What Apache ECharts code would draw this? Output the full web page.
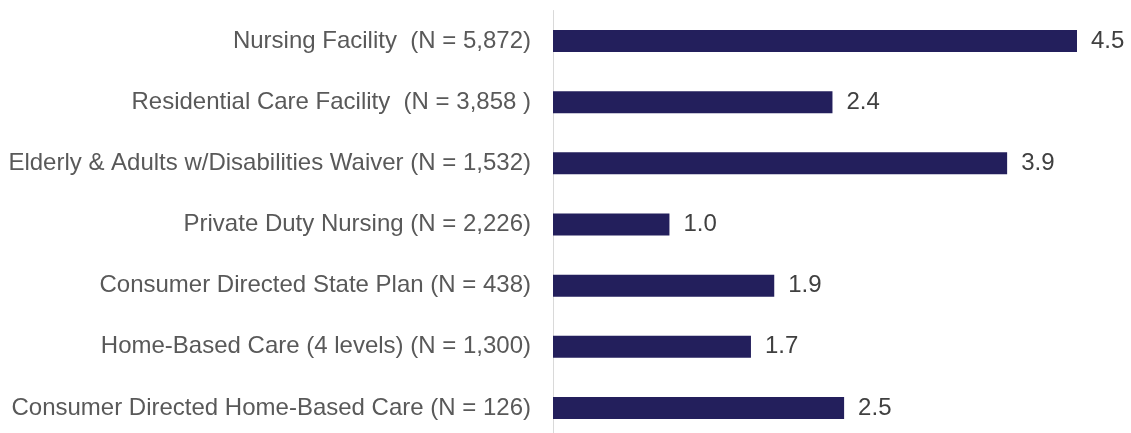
<!DOCTYPE html>
<html>
<head>
<meta charset="utf-8">
<script src="https://cdn.jsdelivr.net/npm/echarts@6/dist/echarts.min.js"></script>
<style>
html,body{margin:0;padding:0;background:#fff;overflow:hidden;width:1131px;height:433px;}
#chart{width:1131px;height:440px;}
</style>
</head>
<body>
<div id="chart"></div>
<script>
const categories = [
  "Nursing Facility  (N = 5,872)",
  "Residential Care Facility  (N = 3,858 )",
  "Elderly & Adults w/Disabilities Waiver (N = 1,532)",
  "Private Duty Nursing (N = 2,226)",
  "Consumer Directed State Plan (N = 438)",
  "Home-Based Care (4 levels) (N = 1,300)",
  "Consumer Directed Home-Based Care (N = 126)"
];
const values = [4.5, 2.4, 3.9, 1.0, 1.9, 1.7, 2.5];

const chart = echarts.init(document.getElementById('chart'), null, {renderer: 'canvas'});
chart.setOption({
  animation: false,
  backgroundColor: '#ffffff',
  textStyle: {fontFamily: '"Liberation Sans", Arial, sans-serif'},
  grid: {left: 553, right: 54, top: 10.5, bottom: 1.5},
  xAxis: {
    type: 'value', min: 0, max: 4.5, show: false
  },
  yAxis: {
    type: 'category',
    data: categories,
    inverse: true,
    axisLine: {show: true, lineStyle: {color: '#d9d9d9', width: 1}},
    axisTick: {show: false},
    axisLabel: {color: '#595959', fontSize: 24, margin: 22, fontFamily: '"Liberation Sans", Arial, sans-serif'},
    splitLine: {show: false}
  },
  series: [{
    type: 'bar',
    data: values,
    barWidth: 22,
    itemStyle: {color: '#231f5c'},
    label: {
      show: true,
      position: 'right',
      distance: 14,
      color: '#404040',
      fontSize: 24,
      fontFamily: '"Liberation Sans", Arial, sans-serif',
      formatter: p => p.value.toFixed(1)
    }
  }]
});
</script>
</body>
</html>
